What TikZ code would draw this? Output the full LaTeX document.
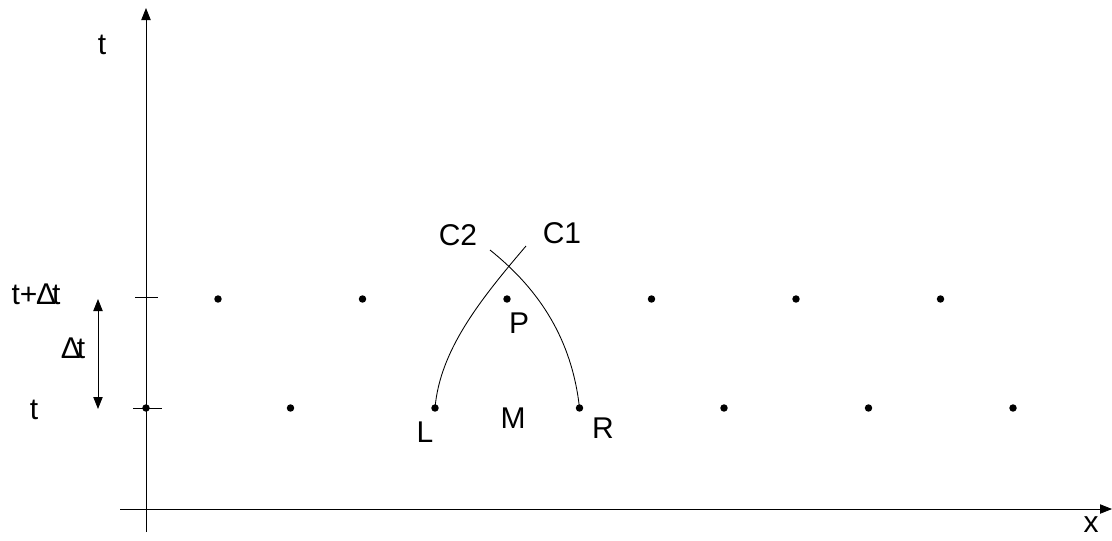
\documentclass[tikz,border=0pt]{standalone}
\usepackage{fontspec}
\setmainfont{Liberation Sans}
\usetikzlibrary{arrows.meta}
\begin{document}
\begin{tikzpicture}[x=0.75pt,y=-0.75pt,line width=0.65pt,
  every node/.style={font=\fontsize{22.5}{24}\selectfont,inner sep=0pt},
  gridpt/.style={circle,fill,minimum size=5.6pt,inner sep=0pt},
  axarrow/.style={-{Triangle[length=9pt,width=7pt]}}]
\useasboundingbox (0,0) rectangle (1112,540);
% axes
\coordinate (tbot) at (146,532); \coordinate (ttop) at (146,8);
\coordinate (xleft) at (120,509); \coordinate (xright) at (1112,509);
\draw[axarrow] (tbot) -- (ttop);
\draw[axarrow] (xleft) -- (xright);
\node (tlab) at (102,45) {t};
\node (xlab) at (1091,525) {x};
% ticks on t axis
\coordinate (tk1a) at (135,297); \coordinate (tk1b) at (158,297);
\coordinate (tk0a) at (133,408); \coordinate (tk0b) at (162,408);
\draw (tk1a) -- (tk1b);
\draw (tk0a) -- (tk0b);
\node (tdt) at (36,294) {t+\kern-1ptΔ\kern-3pt t};
\node (tzero) at (34,410) {t};
% time step
\coordinate (dtop) at (98,299); \coordinate (dbot) at (98,409);
\draw[{Triangle[length=9pt,width=7pt]}-{Triangle[length=9pt,width=7pt]}] (dtop) -- (dbot);
\node (dtlab) at (73,348) {Δ\kern-3pt t};
% grid points
\foreach \i in {0,...,6} \node[gridpt] (d\i) at (146+144.5*\i,408) {};
\foreach \i in {0,...,5} \node[gridpt] (e\i) at (218+144.5*\i,299) {};
% characteristics
\coordinate (c1end) at (526,246); \coordinate (c2end) at (490,250);
\draw (d2.center) .. controls (440,350) and (480,300) .. (c1end);
\draw (d3.center) .. controls (572,340) and (540,290) .. (c2end);
\node (c1lab) at (562,233) {C1};
\node (c2lab) at (458,235) {C2};
\node (plab) at (519,323) {P};
\node (llab) at (425,432) {L};
\node (mlab) at (513,418) {M};
\node (rlab) at (603,428) {R};
\end{tikzpicture}
\end{document}
